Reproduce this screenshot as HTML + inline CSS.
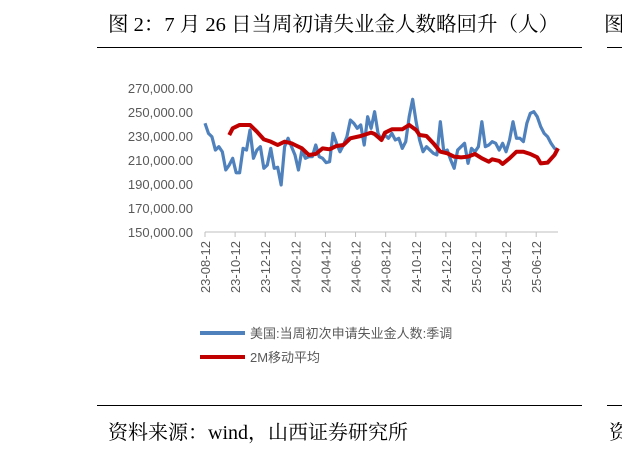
<!DOCTYPE html>
<html><head><meta charset="utf-8"><style>
body{margin:0;background:#fff;width:622px;height:453px;overflow:hidden;position:relative;font-family:"Liberation Serif","Noto Serif CJK SC",serif}
.t{position:absolute;color:#000;font-size:20.5px;white-space:nowrap}
.ln{position:absolute;height:1px;background:#000}
</style></head><body>
<div class="t" style="left:108px;top:7px">图 2：7 月 26 日当周初请失业金人数略回升（人）</div>
<div class="ln" style="left:97px;top:47px;width:485px"></div>
<div class="t" style="left:604px;top:7px">图</div>
<div class="ln" style="left:607px;top:47px;width:15px"></div>
<div class="ln" style="left:97px;top:405px;width:485px"></div>
<div class="ln" style="left:607px;top:405px;width:15px"></div>
<div class="t" style="left:108px;top:416px;font-size:20px">资料来源：wind，山西证券研究所</div>
<div class="t" style="left:609px;top:416px;font-size:20px">资</div>
<svg id="c" width="622" height="453" style="position:absolute;left:0;top:0" font-family="Liberation Sans, Noto Sans CJK SC, sans-serif"></svg>
<script>
const yTicks=[150000,170000,190000,210000,230000,250000,270000];
const xLabels=["23-08-12","23-10-12","23-12-12","24-02-12","24-04-12","24-06-12","24-08-12","24-10-12","24-12-12","25-02-12","25-04-12","25-06-12"];
const claims=[240600,232200,229400,218300,221100,216900,201700,205800,211400,199400,199400,219700,218300,235000,211400,218300,221100,203100,205800,219700,203100,203900,189200,221100,228100,221100,214200,201700,218300,211400,212800,212800,222500,212800,211400,207800,208600,232200,223900,216900,222500,229400,243300,240600,236400,239200,222500,246100,236400,250300,232200,226700,230800,228100,232200,226700,228100,219700,225300,246100,260600,241900,226700,216900,221100,218300,215600,214200,241900,216900,218300,210000,203100,218300,221100,223900,207200,219700,216900,221100,241900,221100,222500,225300,223900,218300,223900,216900,226700,241900,228100,228100,225300,240600,248900,250300,246100,237800,232200,229400,223900,219700,218300];
const maWeeks=[7,8,10,13,15,17,19,21,23,25,26,28,30,32,34,36,38,40,42,45,48,49,51,52,54,57,59,61,62,64,66,68,70,72,74,76,78,80,82,83,85,86,88,90,92,94,96,97,99,101,102];
const maValues=[230800,236400,239200,239200,233600,227200,225300,222500,225300,223900,222500,219700,214200,215000,219700,218900,221700,222500,228100,230000,232800,231700,226700,232800,235600,235600,239200,235000,230800,230000,223900,216900,215600,212800,212200,212800,215000,211400,208600,210600,209200,206700,211400,216900,216900,215000,212200,207200,207800,214200,219700];
const svg=document.getElementById('c');const NS='http://www.w3.org/2000/svg';
const x0=205,x1=558,yb=232;
const N=claims.length;
function xs(i){return x0+i*(x1-x0)/(N-1);}
function ys(v){return yb-(v-150000)*0.0012;}
function mk(t,a){const e=document.createElementNS(NS,t);for(const k in a)e.setAttribute(k,a[k]);svg.appendChild(e);return e;}
yTicks.forEach(v=>{const e=mk('text',{x:193,y:ys(v)+5,'text-anchor':'end','font-size':13,fill:'#595959'});e.textContent=v.toLocaleString('en-US')+'.00';

});
const ax=mk('line',{x1:x0,x2:x1,y1:yb,y2:yb,stroke:'#bfbfbf'});


const step=(x1-x0)/(N-1)*8.7;
xLabels.forEach((l,i)=>{const x=x0+i*step;const t=mk('line',{x1:x,x2:x,y1:yb,y2:yb+5,stroke:'#bfbfbf'});


const e=mk('text',{x:0,y:0,transform:`translate(${x+5},${yb+9}) rotate(-90)`,'text-anchor':'end','font-size':13,fill:'#595959'});e.textContent=l;

});
const p1=mk('polyline',{points:claims.map((v,i)=>xs(i)+','+ys(v)).join(' '),fill:'none',stroke:'#4f81bd',"stroke-width":3.2,"stroke-linejoin":'round'});


const p2=mk('polyline',{points:maValues.map((v,i)=>xs(maWeeks[i])+','+ys(v)).join(' '),fill:'none',stroke:'#c00000',"stroke-width":4,"stroke-linejoin":'round'});


[[333,'#4f81bd','美国:当周初次申请失业金人数:季调','legend-claims'],[357,'#c00000','2M移动平均','legend-ma']].forEach(([y,c,t,n])=>{
const g=mk('g',{});


const l=document.createElementNS(NS,'line');l.setAttribute('x1',200);l.setAttribute('x2',245);l.setAttribute('y1',y);l.setAttribute('y2',y);l.setAttribute('stroke',c);l.setAttribute('stroke-width',4);g.appendChild(l);
const tx=document.createElementNS(NS,'text');tx.setAttribute('x',250);tx.setAttribute('y',y+5);tx.setAttribute('font-size',13);tx.setAttribute('fill','#595959');tx.textContent=t;g.appendChild(tx);});
</script>
</body></html>
